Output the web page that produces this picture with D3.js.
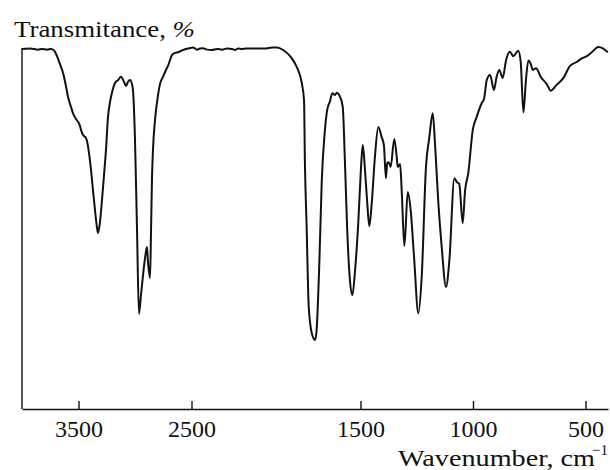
<!DOCTYPE html>
<html>
<head>
<meta charset="utf-8">
<script src="https://cdn.jsdelivr.net/npm/d3@7"></script>
<style>
  body { margin: 0; background: #fff; }
  text { fill: #111; }
</style>
</head>
<body>
<svg id="chart"></svg>
<script>
// IR spectrum, values
const wavenumber = [
  4000, 3929, 3858, 3823, 3779, 3743, 3717, 3690, 3664, 3637,
  3611, 3593, 3566, 3549, 3522, 3504, 3487, 3478, 3460, 3434,
  3425, 3407, 3389, 3372, 3354, 3336, 3327, 3310, 3292, 3274,
  3257, 3239, 3221, 3204, 3177, 3150, 3124, 3097, 3080, 3062,
  3044, 3027, 3018, 3000, 2982, 2965, 2947, 2929, 2911, 2894,
  2885, 2867, 2858, 2850, 2841, 2823, 2796, 2779, 2752, 2726,
  2708, 2690, 2673, 2646, 2619, 2575, 2531, 2487, 2451, 2425,
  2398, 2363, 2319, 2274, 2230, 2186, 2142, 2115, 2088, 2053,
  2018, 1969, 1924, 1893, 1871, 1844, 1813, 1784, 1761, 1751,
  1747, 1739, 1732, 1724, 1716, 1702, 1695, 1683, 1672, 1658,
  1648, 1636, 1625, 1613, 1606, 1591, 1579, 1569, 1559, 1547,
  1536, 1524, 1510, 1499, 1490, 1480, 1470, 1461, 1450, 1436,
  1421, 1406, 1396, 1387, 1381, 1375, 1366, 1350, 1339, 1335,
  1324, 1317, 1305, 1290, 1277, 1262, 1243, 1228, 1209, 1194,
  1179, 1168, 1154, 1139, 1120, 1105, 1083, 1072, 1061, 1046,
  1035, 1021, 1001, 984, 961, 951, 939, 924, 907, 895,
  883, 868, 853, 836, 821, 799, 788, 776, 765, 754,
  743, 734, 720, 699, 672, 655, 628, 598, 569, 539,
  516, 494, 472, 443, 421, 401
];

const transmittance = [
  99.2, 99.3, 99.0, 99.2, 99.0, 99.2, 98.8, 97.2, 95.0, 92.6,
  89.0, 86.0, 83.2, 81.5, 79.9, 79.1, 78.0, 76.9, 75.5, 74.7,
  73.8, 70.5, 65.8, 60.3, 54.8, 49.9, 48.5, 51.5, 57.6, 64.5,
  71.3, 80.4, 84.6, 87.1, 89.8, 90.6, 91.5, 90.1, 89.0, 90.1,
  90.6, 89.5, 87.9, 74.1, 49.3, 26.2, 31.4, 36.9, 41.6, 44.6,
  40.5, 36.1, 49.3, 63.1, 71.3, 79.6, 86.5, 89.5, 91.5, 93.4,
  94.5, 96.1, 97.5, 98.1, 98.3, 98.9, 99.3, 99.6, 99.0, 99.3,
  99.4, 99.0, 98.9, 99.2, 99.0, 99.3, 99.2, 98.9, 99.3, 99.2,
  99.3, 99.3, 99.3, 99.6, 99.6, 98.9, 97.2, 94.3, 89.8, 85.1,
  67.8, 49.3, 30.9, 23.7, 20.7, 19.0, 21.8, 40.2, 63.1, 76.9,
  82.4, 84.7, 87.0, 86.5, 87.1, 86.0, 83.3, 67.8, 49.3, 35.5,
  31.4, 38.3, 51.2, 65.0, 72.7, 65.8, 56.7, 50.4, 56.7, 69.4,
  77.7, 74.9, 72.7, 63.6, 67.8, 68.0, 66.7, 74.4, 69.4, 66.7,
  67.5, 60.3, 44.9, 59.8, 54.8, 41.9, 26.4, 36.4, 66.7, 74.9,
  81.5, 72.2, 56.7, 44.6, 33.6, 41.0, 63.6, 62.5, 62.0, 51.2,
  60.3, 65.0, 76.9, 80.4, 84.3, 85.4, 90.6, 92.0, 87.9, 91.5,
  93.4, 91.2, 96.1, 98.4, 97.2, 98.7, 95.6, 81.7, 90.4, 96.0,
  95.0, 93.4, 93.9, 91.5, 89.5, 87.7, 89.3, 91.2, 94.5, 95.6,
  96.6, 97.2, 98.3, 99.7, 99.3, 98.3
];

const xTicks = [3500, 2500, 1500, 1000, 500];

const width = 610, height = 470;
const serif = "'Liberation Serif', Tinos, 'Times New Roman', Times, 'Nimbus Roman', 'Noto Serif', 'FreeSerif', 'DejaVu Serif', serif";

const svg = d3.select("#chart")
    .attr("width", width)
    .attr("height", height);

// the wavenumber axis changes scale at 2000 cm-1, as usual for IR spectra
const x = d3.scaleLinear()
    .domain([4000, 2000, 400])
    .range([22, 248, 608]);

const y = d3.scaleLinear()
    .domain([0, 100])
    .range([409, 46]);

const points = d3.zip(wavenumber, transmittance);

const line = d3.line()
    .x(d => x(d[0]))
    .y(d => y(d[1]))
    .curve(d3.curveMonotoneX);

// left axis: plain line, no ticks
svg.append("line")
    .attr("x1", 22).attr("x2", 22)
    .attr("y1", 48).attr("y2", 409)
    .attr("stroke", "#111")
    .attr("stroke-width", 1.4);

const xAxis = svg.append("g")
    .attr("transform", "translate(0,409)")
    .call(d3.axisBottom(x)
        .tickValues(xTicks)
        .tickFormat(d3.format("d"))
        .tickSizeInner(-8)
        .tickSizeOuter(0));

xAxis.attr("font-family", serif).attr("font-size", 24);
xAxis.select(".domain").attr("stroke", "#111").attr("stroke-width", 1.4);
xAxis.selectAll(".tick line").attr("stroke", "#111").attr("stroke-width", 1.4);
xAxis.selectAll(".tick text")
    .attr("y", 28)
    .attr("dy", null)
    .attr("fill", "#111");

svg.append("path")
    .datum(points)
    .attr("fill", "none")
    .attr("stroke", "#111")
    .attr("stroke-width", 2)
    .attr("stroke-linejoin", "round")
    .attr("d", line);

// axis titles
const yTitle = svg.append("text")
    .attr("x", 14)
    .attr("y", 37)
    .attr("font-family", serif)
    .attr("font-size", 24)
    .attr("textLength", 181)
    .attr("lengthAdjust", "spacingAndGlyphs");
yTitle.append("tspan").text("Transmitance, ");
yTitle.append("tspan").attr("font-style", "italic").text("%");

svg.append("text")
    .attr("x", 398)
    .attr("y", 466)
    .attr("font-family", serif)
    .attr("font-size", 24)
    .attr("textLength", 197)
    .attr("lengthAdjust", "spacingAndGlyphs")
    .text("Wavenumber, cm");

svg.append("text")
    .attr("x", 608)
    .attr("y", 455)
    .attr("text-anchor", "end")
    .attr("font-family", serif)
    .attr("font-size", 15)
    .text("−1");
</script>
</body>
</html>
